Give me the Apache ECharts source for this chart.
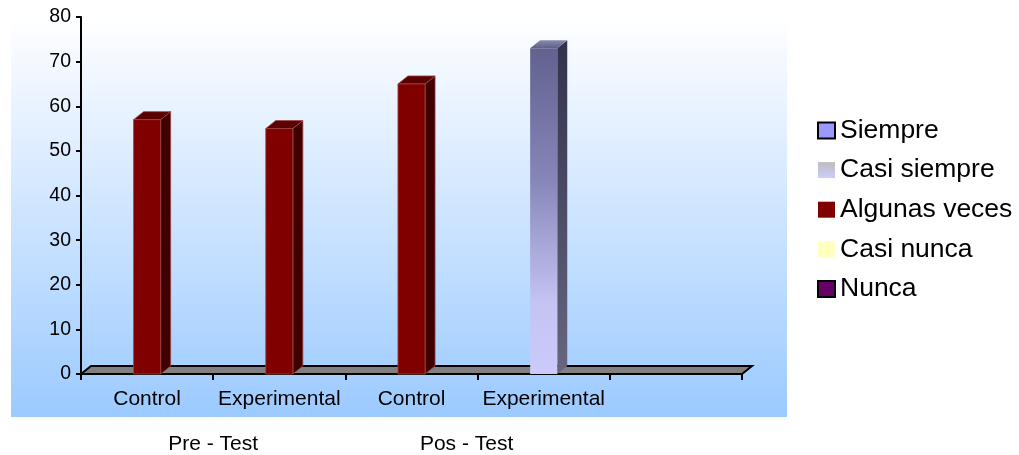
<!DOCTYPE html>
<html>
<head>
<meta charset="utf-8">
<script src="https://cdn.jsdelivr.net/npm/echarts@6/dist/echarts.min.js"></script>
<style>html,body{margin:0;padding:0;background:#fff}#c{width:1019px;height:455px}</style>
</head>
<body>
<div id="c"></div>
<script>
// ---- data ----
const categories = ['Control', 'Experimental', 'Control', 'Experimental', ''];
const groupLabels = ['', '', 'Pre - Test', '', '', '', 'Pos - Test', '', '', '', ''];
const seriesNames = ['Siempre', 'Casi siempre', 'Algunas veces', 'Casi nunca', 'Nunca'];
const siempre      = [0, 0, 0, 0, 0];
const casiSiempre  = [0, 0, 0, 73, 0];
const algunasVeces = [57, 55, 65, 0, 0];
const casiNunca    = [0, 0, 0, 0, 0];
const nunca        = [0, 0, 0, 0, 0];
const yMin = 0, yMax = 80, yStep = 10;

// ---- styling ----
const FONT = 'Liberation Sans, Arial, sans-serif';
const DX = 10, DY = 8;
const G = echarts.graphic.LinearGradient;

function bar3d(front, side, top, stroke) {
  return function (params, api) {
    const v = api.value(1);
    if (!v) return null;
    const base = api.coord([api.value(0), 0]);
    const tip = api.coord([api.value(0), v]);
    const bw = api.size([1, 0])[0] * 0.205;
    const x0 = base[0] - bw / 2, x1 = base[0] + bw / 2, yb = base[1], yt = tip[1];
    const st = stroke ? { stroke: stroke, lineWidth: 0.8 } : {};
    return {
      type: 'group',
      children: [
        { type: 'polygon', shape: { points: [[x1, yt], [x1 + DX, yt - DY], [x1 + DX, yb - DY], [x1, yb]] }, style: Object.assign({ fill: side }, st) },
        { type: 'polygon', shape: { points: [[x0, yt], [x0 + DX, yt - DY], [x1 + DX, yt - DY], [x1, yt]] }, style: Object.assign({ fill: top }, st) },
        { type: 'rect', shape: { x: x0, y: yt, width: bw, height: yb - yt }, style: Object.assign({ fill: front }, st) }
      ]
    };
  };
}

const styles = {
  'Siempre': { legend: '#9999ff', render: bar3d('#9999ff', '#4d4d80', '#7777cc') },
  'Casi siempre': {
    legend: new G(0, 0, 0, 1, [{ offset: 0, color: '#bdbdbd' }, { offset: 1, color: '#ccccff' }]),
    render: bar3d(
      new G(0, 0, 0, 1, [{ offset: 0, color: '#62628f' }, { offset: 0.4, color: '#8585b8' }, { offset: 0.78, color: '#c4c4f3' }, { offset: 1, color: '#cbcbfb' }]),
      new G(0, 0, 0, 1, [{ offset: 0, color: '#32324c' }, { offset: 1, color: '#66667f' }]),
      new G(0, 0, 0, 1, [{ offset: 0, color: '#8a8ab0' }, { offset: 1, color: '#5e5e88' }])
    )
  },
  'Algunas veces': { legend: '#800000', render: bar3d('#800000', '#400000', '#5c0000', '#9a4848') },
  'Casi nunca': { legend: '#ffffc0', render: bar3d('#ffffc0', '#999973', '#e6e6ad') },
  'Nunca': { legend: '#660066', render: bar3d('#660066', '#330033', '#520052') }
};
const valuesByName = {
  'Siempre': siempre, 'Casi siempre': casiSiempre, 'Algunas veces': algunasVeces,
  'Casi nunca': casiNunca, 'Nunca': nunca
};

const chart = echarts.init(document.getElementById('c'), null, { renderer: 'canvas' });

const series = [{
  type: 'custom', name: '_floor', silent: true, z: 1,
  data: [[0, 0]],
  encode: { x: 0, y: 1 },
  renderItem: function (params, api) {
    const bw = api.size([1, 0])[0];
    const c0 = api.coord([0, 0]);
    const left = c0[0] - bw / 2, right = left + bw * categories.length, y = c0[1];
    return {
      type: 'polygon',
      shape: { points: [[left, y], [left + DX, y - DY], [right + DX, y - DY], [right, y]] },
      style: { fill: '#808080', stroke: '#000', lineWidth: 2, lineJoin: 'miter' }
    };
  }
}];
seriesNames.forEach(function (n) {
  series.push({
    type: 'custom', name: n, z: 3,
    itemStyle: { color: styles[n].legend },
    encode: { x: 0, y: 1 },
    data: valuesByName[n].map(function (v, i) { return [i, v]; }),
    renderItem: styles[n].render
  });
});

chart.setOption({
  animation: false,
  graphic: [{
    type: 'rect', z: -100, left: 11, top: 17, silent: true,
    shape: { width: 776, height: 400 },
    style: { fill: new G(0, 0, 0, 1, [{ offset: 0, color: '#ffffff' }, { offset: 1, color: '#9bcaff' }]) }
  }],
  grid: { left: 81, right: 277, top: 17, bottom: 81, containLabel: false },
  legend: {
    orient: 'vertical', left: 817, top: 117, padding: 0,
    itemWidth: 17, itemHeight: 16, itemGap: 12.6, icon: 'rect',
    textStyle: { fontFamily: FONT, fontSize: 26.5, color: '#000' },
    data: [
      { name: 'Siempre', itemStyle: { borderColor: '#000', borderWidth: 2 } },
      { name: 'Casi siempre' },
      { name: 'Algunas veces' },
      { name: 'Casi nunca' },
      { name: 'Nunca', itemStyle: { borderColor: '#000', borderWidth: 2 } }
    ]
  },
  xAxis: [{
    type: 'category', data: categories, position: 'bottom',
    axisLine: { show: true, lineStyle: { color: '#000', width: 2 } },
    axisTick: { show: true, length: 6, lineStyle: { color: '#000', width: 2 } },
    axisLabel: { interval: 0, margin: 15, fontFamily: FONT, fontSize: 21, color: '#000' },
    splitLine: { show: false }
  }, {
    type: 'category', data: groupLabels, position: 'bottom', offset: 52, boundaryGap: false,
    axisLine: { show: false }, axisTick: { show: false }, splitLine: { show: false },
    axisLabel: {
      interval: 0, margin: 8, fontFamily: FONT, fontSize: 21, color: '#000',
      formatter: function (v) { return v === 'Pos - Test' ? '{p|' + v + '}' : v; },
      rich: { p: { fontFamily: FONT, fontSize: 21, color: '#000', padding: [0, 22, 0, 0] } }
    }
  }],
  yAxis: {
    type: 'value', min: yMin, max: yMax, interval: yStep,
    axisLine: { show: true, lineStyle: { color: '#000', width: 2 } },
    axisTick: { show: true, length: 5, lineStyle: { color: '#000', width: 2 } },
    axisLabel: { margin: 10, fontFamily: FONT, fontSize: 19.5, color: '#000' },
    splitLine: { show: false }
  },
  series: series
});
</script>
</body>
</html>
